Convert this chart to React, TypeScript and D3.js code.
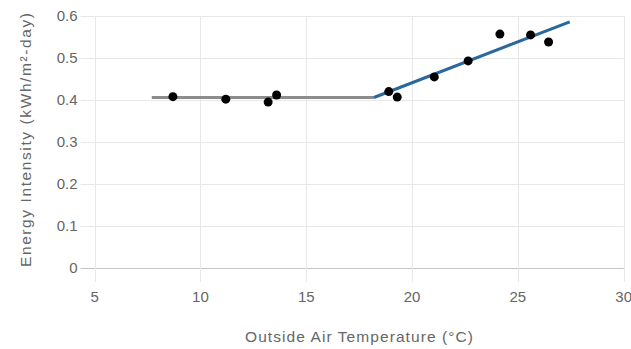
import { useEffect, useRef } from "react"
import * as d3 from "d3"

// measured points (temperature °C, kWh/m²-day)
const temps = [8.7, 11.2, 13.2, 13.6, 18.9, 19.3, 21.05, 22.65, 24.15, 25.6, 26.45]
const intensity = [0.408, 0.402, 0.395, 0.412, 0.42, 0.407, 0.455, 0.493, 0.557, 0.555, 0.538]

// fitted change-point model
const baseLine = [
  [7.7, 0.406],
  [18.2, 0.406],
]
const slopeLine = [
  [18.2, 0.406],
  [27.45, 0.586],
]

const xTicks = [5, 10, 15, 20, 25, 30]
const yTicks = [0, 0.1, 0.2, 0.3, 0.4, 0.5, 0.6]

const W = 631
const H = 349
const FONT = "'Liberation Sans', Arial, Helvetica, sans-serif"

export default function App() {
  const svgRef = useRef<SVGSVGElement>(null)

  useEffect(() => {
    if (!svgRef.current) return
    const svg = d3.select(svgRef.current)
    svg.selectAll("*").remove()

    const x = d3.scaleLinear().domain([5, 30]).range([94.6, 623.7])
    const y = d3.scaleLinear().domain([0, 0.6]).range([268, 16])

    const grid = svg.append("g")

    // horizontal gridlines + tick marks
    grid
      .selectAll("line.hy")
      .data(yTicks)
      .enter()
      .append("line")
      .attr("x1", x(5) - 14)
      .attr("x2", x(30))
      .attr("y1", (d) => Math.round(y(d)) + 0.5)
      .attr("y2", (d) => Math.round(y(d)) + 0.5)
      .attr("stroke", (d) => (d === 0 ? "#c4c4c4" : "#e8e8e8"))
      .attr("stroke-width", 1)

    // vertical gridlines + tick marks
    grid
      .selectAll("line.vx")
      .data(xTicks)
      .enter()
      .append("line")
      .attr("x1", (d) => Math.round(x(d)) + 0.5)
      .attr("x2", (d) => Math.round(x(d)) + 0.5)
      .attr("y1", y(0.6))
      .attr("y2", y(0) + 14)
      .attr("stroke", "#e8e8e8")
      .attr("stroke-width", 1)

    // tick labels
    svg
      .append("g")
      .selectAll("text")
      .data(yTicks)
      .enter()
      .append("text")
      .attr("x", x(5) - 17)
      .attr("y", (d) => y(d))
      .attr("dy", "0.35em")
      .attr("text-anchor", "end")
      .attr("fill", "#666")
      .attr("font-family", FONT)
      .attr("font-size", "15px")
      .text((d) => d3.format("~g")(d))

    svg
      .append("g")
      .selectAll("text")
      .data(xTicks)
      .enter()
      .append("text")
      .attr("x", (d) => x(d))
      .attr("y", 302)
      .attr("text-anchor", "middle")
      .attr("fill", "#666")
      .attr("font-family", FONT)
      .attr("font-size", "15px")
      .text((d) => d)

    // axis titles (stretched a bit, like the original)
    svg
      .append("text")
      .attr("x", 245)
      .attr("y", 342)
      .attr("textLength", 228)
      .attr("lengthAdjust", "spacing")
      .attr("fill", "#666")
      .attr("font-family", FONT)
      .attr("font-size", "15.5px")
      .text("Outside Air Temperature (°C)")

    svg
      .append("text")
      .attr("transform", "translate(31,267) rotate(-90)")
      .attr("textLength", 254)
      .attr("lengthAdjust", "spacing")
      .attr("fill", "#666")
      .attr("font-family", FONT)
      .attr("font-size", "15.5px")
      .text("Energy Intensity (kWh/m²-day)")

    const line = d3
      .line<number[]>()
      .x((d) => x(d[0]))
      .y((d) => y(d[1]))

    svg
      .append("path")
      .attr("d", line(baseLine))
      .attr("fill", "none")
      .attr("stroke", "#8c8c8c")
      .attr("stroke-width", 3)

    svg
      .append("path")
      .attr("d", line(slopeLine))
      .attr("fill", "none")
      .attr("stroke", "#2a679c")
      .attr("stroke-width", 3)

    svg
      .append("g")
      .selectAll("circle")
      .data(temps.map((t, i) => [t, intensity[i]]))
      .enter()
      .append("circle")
      .attr("cx", (d) => x(d[0]))
      .attr("cy", (d) => y(d[1]))
      .attr("r", 4.5)
      .attr("fill", "#000")
  }, [])

  return (
    <svg
      ref={svgRef}
      width={W}
      height={H}
      style={{ position: "absolute", left: 0, top: 0, background: "#fff" }}
    />
  )
}
